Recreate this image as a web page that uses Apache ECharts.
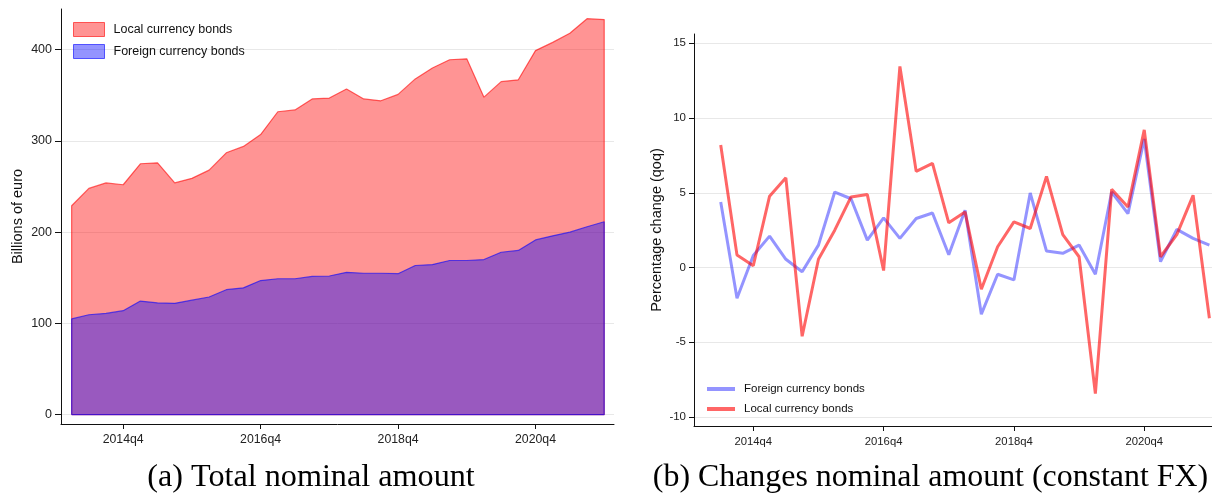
<!DOCTYPE html>
<html><head><meta charset="utf-8">
<script src="https://cdn.jsdelivr.net/npm/echarts@6/dist/echarts.min.js"></script>
<style>html,body{margin:0;padding:0;background:#fff}#c{width:1212px;height:496px}</style>
</head><body><div id="c"></div>
<script>
const quarters = ['2014q1','2014q2','2014q3','2014q4','2015q1','2015q2','2015q3','2015q4',
  '2016q1','2016q2','2016q3','2016q4','2017q1','2017q2','2017q3','2017q4',
  '2018q1','2018q2','2018q3','2018q4','2019q1','2019q2','2019q3','2019q4',
  '2020q1','2020q2','2020q3','2020q4','2021q1','2021q2','2021q3','2021q4'];
const xTickLabels = ['2014q4','2016q4','2018q4','2020q4'];
const leftYTicks = [0,100,200,300,400];
const rightYTicks = [-10,-5,0,5,10,15];
// (a) Total nominal amount, billions of euro (local area drawn as plotted top)
const localBonds = [229,248,254,252,275,276,254,259,268,287,294,307,332,334,346,347,
  357,346,344,351,368,380,389,390,348,365,367,399,408,418,434,433];
const foreignBonds = [105,109.5,111,114,124.5,122.5,122,125.5,129,137,139,147,149,149,151.5,152,
  156,155,155,154.5,163.5,164.5,169,169,170,178,180,191.5,196,200,206,211.5];
// (b) Changes nominal amount (constant FX), percent qoq, 2014q2..2021q4
const changeQuarters = quarters.slice(1);
const foreignChange = [4.39,-2.06,0.8,2.1,0.55,-0.28,1.5,5.05,4.6,1.83,3.32,1.95,3.28,3.65,0.85,3.83,
  -3.12,-0.45,-0.83,4.99,1.1,0.95,1.5,-0.45,5.05,3.6,8.6,0.39,2.55,1.95,1.5];
const localChange = [8.2,0.83,0.12,4.77,6.0,-4.6,0.55,2.5,4.72,4.88,-0.2,13.45,6.43,6.97,2.99,3.72,
  -1.45,1.39,3.05,2.61,6.1,2.2,0.72,-8.43,5.23,4.05,9.21,0.72,2.2,4.83,-3.39];

const SANS = '"Liberation Sans", Arial, sans-serif';
const tickIdx = xTickLabels.map(l => quarters.indexOf(l));

function outlined(vals) {
  const pts = vals.map((v, i) => [i, v]);
  const last = vals.length - 1;
  return [[0, 0]].concat(pts, [[last, 0], [0, 0]]);
}
function fitSize(text, family, target) {
  const ctx = document.createElement('canvas').getContext('2d');
  ctx.font = '100px ' + family;
  return 100 * target / ctx.measureText(text).width;
}
const capA = '(a) Total nominal amount';
const capB = '(b) Changes nominal amount (constant FX)';
const SERIF = '"Liberation Serif", "Times New Roman", serif';
const sizeA = fitSize(capA, SERIF, 328);
const sizeB = fitSize(capB, SERIF, 555);

const axisLineStyle = { color: '#111', width: 1 };
const gridLine = { show: true, lineStyle: { color: '#e8e8e8', width: 1 } };

const chart = echarts.init(document.getElementById('c'), null, { renderer: 'canvas' });
chart.setOption({
  animation: false,
  backgroundColor: '#fff',
  grid: [
    { left: 61, top: 9, width: 553, height: 415, containLabel: false },
    { left: 694, top: 34, width: 518, height: 392, containLabel: false }
  ],
  xAxis: [
    { type: 'value', gridIndex: 0, min: -0.62, max: 31.57,
      axisLine: { show: true, onZero: false, lineStyle: axisLineStyle },
      axisTick: { show: true, length: 5, customValues: tickIdx, lineStyle: axisLineStyle },
      axisLabel: { customValues: tickIdx, margin: 10, fontSize: 12.3, fontFamily: SANS, color: '#222',
        formatter: v => quarters[Math.round(v)] },
      splitLine: { show: false } },
    { type: 'value', gridIndex: 1, min: -0.64, max: 31.16,
      axisLine: { show: true, onZero: false, lineStyle: axisLineStyle },
      axisTick: { show: true, length: 5, customValues: tickIdx, lineStyle: axisLineStyle },
      axisLabel: { customValues: tickIdx, margin: 10, fontSize: 11.3, fontFamily: SANS, color: '#222',
        formatter: v => quarters[Math.round(v)] },
      splitLine: { show: false } }
  ],
  yAxis: [
    { type: 'value', gridIndex: 0, min: -10.2, max: 444.6,
      name: 'Billions of euro', nameLocation: 'middle', nameGap: 36,
      nameTextStyle: { fontSize: 14.5, fontFamily: SANS, color: '#111' },
      axisLine: { show: true, onZero: false, lineStyle: axisLineStyle },
      axisTick: { show: true, length: 6, customValues: leftYTicks, lineStyle: axisLineStyle },
      axisLabel: { customValues: leftYTicks, margin: 9, fontSize: 12.5, fontFamily: SANS, color: '#222' },
      splitLine: gridLine },
    { type: 'value', gridIndex: 1, min: -10.6, max: 15.62,
      name: 'Percentage change (qoq)', nameLocation: 'middle', nameGap: 30,
      nameTextStyle: { fontSize: 14.5, fontFamily: SANS, color: '#111' },
      axisLine: { show: true, onZero: false, lineStyle: axisLineStyle },
      axisTick: { show: true, length: 5, customValues: rightYTicks, lineStyle: axisLineStyle },
      axisLabel: { customValues: rightYTicks, margin: 8, fontSize: 11.5, fontFamily: SANS, color: '#222' },
      splitLine: gridLine }
  ],
  legend: [
    { orient: 'vertical', left: 73, top: 22, padding: 0, itemWidth: 31, itemHeight: 14, itemGap: 7,
      textStyle: { fontSize: 12.5, fontFamily: SANS, color: '#111', padding: [0, 0, 0, 4] },
      selectedMode: false,
      data: [
        { name: 'Local currency bonds', icon: 'rect',
          itemStyle: { color: 'rgba(255,0,0,0.42)', borderColor: 'rgba(255,0,0,0.6)', borderWidth: 1 } },
        { name: 'Foreign currency bonds', icon: 'rect',
          itemStyle: { color: 'rgba(0,0,255,0.42)', borderColor: 'rgba(0,0,255,0.6)', borderWidth: 1 } }
      ] },
    { orient: 'vertical', left: 707, top: 383, padding: 0, itemWidth: 28, itemHeight: 4, itemGap: 8,
      textStyle: { fontSize: 11.5, fontFamily: SANS, color: '#111', padding: [0, 0, 0, 4] },
      selectedMode: false,
      data: [
        { name: 'Foreign currency bonds', icon: 'rect',
          itemStyle: { color: 'rgba(0,0,255,0.42)', borderWidth: 0 } },
        { name: 'Local currency bonds', icon: 'rect',
          itemStyle: { color: 'rgba(255,0,0,0.6)', borderWidth: 0 } }
      ] }
  ],
  series: [
    { name: 'Local currency bonds', type: 'line', xAxisIndex: 0, yAxisIndex: 0,
      data: outlined(localBonds), symbol: 'none', z: 2,
      lineStyle: { color: 'rgba(255,0,0,0.6)', width: 1.2 },
      itemStyle: { color: 'rgba(255,0,0,0.6)' },
      areaStyle: { color: 'rgba(255,0,0,0.42)', opacity: 1 } },
    { name: 'Foreign currency bonds', type: 'line', xAxisIndex: 0, yAxisIndex: 0,
      data: outlined(foreignBonds), symbol: 'none', z: 3,
      lineStyle: { color: 'rgba(0,0,255,0.6)', width: 1.2 },
      itemStyle: { color: 'rgba(0,0,255,0.6)' },
      areaStyle: { color: 'rgba(0,0,255,0.4)', opacity: 1 } },
    { name: 'Foreign currency bonds', type: 'line', xAxisIndex: 1, yAxisIndex: 1,
      data: changeQuarters.map((q, k) => [quarters.indexOf(q), foreignChange[k]]),
      symbol: 'none', z: 2,
      lineStyle: { color: 'rgba(0,0,255,0.42)', width: 3 } },
    { name: 'Local currency bonds', type: 'line', xAxisIndex: 1, yAxisIndex: 1,
      data: changeQuarters.map((q, k) => [quarters.indexOf(q), localChange[k]]),
      symbol: 'none', z: 3,
      lineStyle: { color: 'rgba(255,0,0,0.6)', width: 3 } }
  ],
  graphic: [
    { type: 'text', x: 311, y: 478, style: { text: capA, font: sizeA.toFixed(1) + 'px ' + SERIF,
      fill: '#000', align: 'center', verticalAlign: 'middle' } },
    { type: 'text', x: 930.5, y: 478, style: { text: capB, font: sizeB.toFixed(1) + 'px ' + SERIF,
      fill: '#000', align: 'center', verticalAlign: 'middle' } }
  ]
});
</script></body></html>
